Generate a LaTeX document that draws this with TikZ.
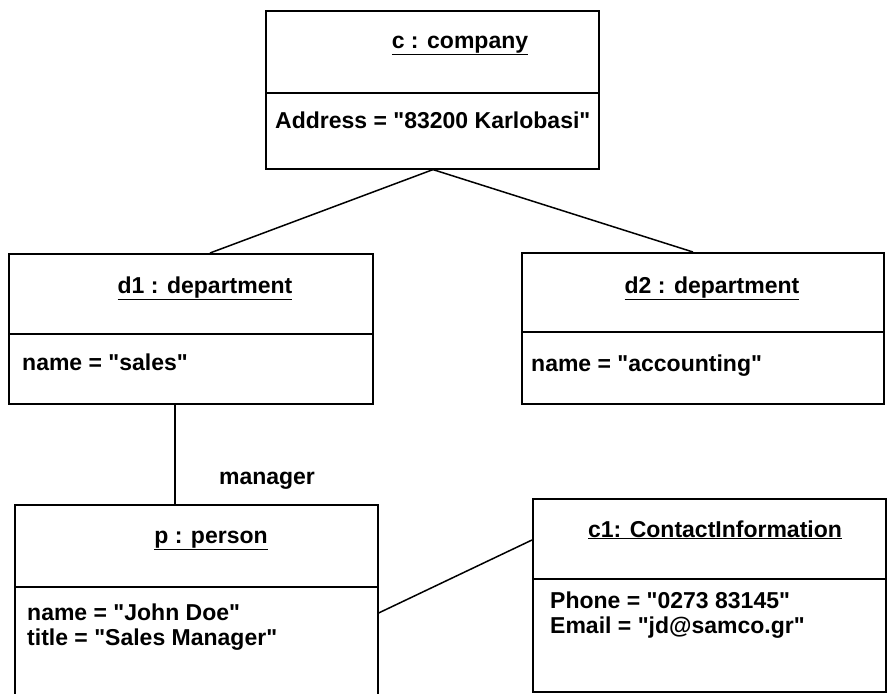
\documentclass[tikz,border=0pt]{standalone}
\usepackage{fontspec}
\setmainfont{Liberation Sans}[Ligatures=TeXReset]
\newcommand{\qq}{\symbol{34}}
\begin{document}
\begin{tikzpicture}[x=1pt,y=-1pt,
  objbox/.style={draw, line width=1.6pt, rectangle, inner sep=0pt, anchor=north west},
  objtitle/.style={font=\fontsize{23}{26}\selectfont\bfseries, anchor=base, inner sep=0pt},
  attr/.style={font=\fontsize{23}{26}\selectfont\bfseries, anchor=base west, inner sep=0pt},
  link/.style={line width=1.5pt}]
\useasboundingbox[fill=white] (0,0) rectangle (887,694);
\clip (0,0) rectangle (887,694);
% boxes
\node[objbox, minimum width=333pt, minimum height=158pt] (company) at (265,10) {};
\node[objbox, minimum width=364pt, minimum height=150pt] (d1) at (8,253) {};
\node[objbox, minimum width=362pt, minimum height=151pt] (d2) at (521,252) {};
\node[objbox, minimum width=363pt, minimum height=220pt] (p) at (14,504) {};
\node[objbox, minimum width=353pt, minimum height=193pt] (c1) at (532,498) {};
% dividers
\draw[link] (company.west |- 0,93) -- (company.east |- 0,93);
\draw[link] (d1.west |- 0,334) -- (d1.east |- 0,334);
\draw[link] (d2.west |- 0,332) -- (d2.east |- 0,332);
\draw[link] (p.west |- 0,587) -- (p.east |- 0,587);
\draw[link] (c1.west |- 0,579) -- (c1.east |- 0,579);
% titles
\node[objtitle] (tcompany) at (460,48) {\underline{c : company}};
\node[objtitle] (td1) at (205,293) {\underline{d1 : department}};
\node[objtitle] (td2) at (712,293) {\underline{d2 : department}};
\node[objtitle] (tp) at (211,543) {\underline{p : person}};
\node[objtitle] (tc1) at (715,537) {\underline{c1: ContactInformation}};
% attributes
\node[attr] (acompany) at (275,128) {Address = \qq83200 Karlobasi\qq};
\node[attr] (ad1) at (22,370) {name = \qq sales\qq};
\node[attr] (ad2) at (531,371) {name = \qq accounting\qq};
\node[attr] (apname) at (27,620) {name = \qq John Doe\qq};
\node[attr] (aptitle) at (27,645) {title = \qq Sales Manager\qq};
\node[attr] (acphone) at (550,608) {Phone = \qq0273 83145\qq};
\node[attr] (acmail) at (550,633) {Email = \qq jd@samco.gr\qq};
% connectors
\coordinate (apex) at (company.south -| 433,0);
\draw[link] (apex) -- (d1.north -| 210,0);
\draw[link] (apex) -- (d2.north -| 693,0);
\draw[link] (d1.south -| 175,0) -- (p.north -| 175,0);
\draw[link] (p.east |- 0,613) -- (c1.west |- 0,540);
\node[objtitle] (lmanager) at (267,484) {manager};
\end{tikzpicture}
\end{document}
